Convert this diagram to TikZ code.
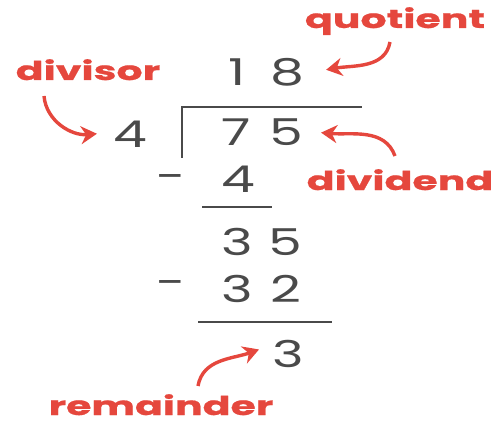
\documentclass[tikz,border=0pt]{standalone}
\usepackage{fontspec}
\setmainfont{Poppins}
\newfontfamily\digitfont{Poppins}[FakeStretch=1.45]
\newfontfamily\labelfont{Poppins}[FakeStretch=1.58, BoldFeatures={FakeBold=0.8}]
\usepackage{xcolor}
\usetikzlibrary{positioning,arrows.meta}
\definecolor{lblred}{HTML}{E5473D}
\definecolor{digitgray}{HTML}{4A4A4A}

\begin{document}
\begin{tikzpicture}[
  x=1pt, y=-1pt,
  num/.style={text=digitgray, font=\digitfont\fontsize{37}{37}\selectfont, inner sep=0pt, anchor=base},
  lbl/.style={text=lblred, font=\labelfont\bfseries\fontsize{26}{26}\selectfont, inner sep=0pt, anchor=base},
  arr/.style={-{Stealth[length=16pt,width=18pt]}, line width=3.4pt, draw=lblred},
  bar/.style={line width=2.2pt, draw=digitgray}
]
  \useasboundingbox (0,0) rectangle (498,425);
  % labels
  \node[lbl] (quot) at (395,28) {quotient};
  \node[lbl] (dvs) at (88,80) {divisor};
  \node[lbl] (dvd) at (400,190) {dividend};
  \node[lbl] (rem) at (161,415) {remainder};
  % digits
  \node[num] (q1) at (237,86) {1};
  \node[num] (q2) at (287,86) {8};
  \node[num] (dv) at (130,147) {4};
  \node[num] (n1) at (236,146) {7};
  \node[num] (n2) at (286,146) {5};
  \node[num, anchor=center] (m1) at (171,182) {-};
  \node[num] (s1) at (238,192) {4};
  \node[num] (d1) at (237,255) {3};
  \node[num] (d2) at (285,255) {5};
  \node[num, anchor=center] (m2) at (171,288) {-};
  \node[num] (s2) at (237,302) {3};
  \node[num] (s3) at (286,302) {2};
  \node[num] (rr) at (288,367) {3};
  % bracket and bars
  \coordinate (brtop) at (182,107);
  \coordinate (brend) at (362,107);
  \coordinate (brbot) at (182,158);
  \draw[bar] (brbot) -- (brtop) -- (brend);
  \coordinate (b1l) at (202,207);
  \coordinate (b1r) at (272,207);
  \draw[bar] (b1l) -- (b1r);
  \coordinate (b2l) at (198,322);
  \coordinate (b2r) at (332,322);
  \draw[bar] (b2l) -- (b2r);
  % arrow tails
  \coordinate (quot-tail) at (390,42);
  \coordinate (dvs-tail) at (44,96);
  \coordinate (dvd-tail) at (395,156);
  \coordinate (rem-tail) at (198,386);
  % arrows
  \draw[arr] (quot-tail) to[out=-100, in=10] ([xshift=22pt,yshift=3pt]q2.east);
  \draw[arr] (dvs-tail) to[out=-85, in=185] ([xshift=-16pt]dv.west);
  \draw[arr] (dvd-tail) to[out=110, in=-5] ([xshift=18pt]n2.east);
  \draw[arr] (rem-tail) to[out=80, in=200] ([xshift=-13pt,yshift=4pt]rr.west);
\end{tikzpicture}
\end{document}
